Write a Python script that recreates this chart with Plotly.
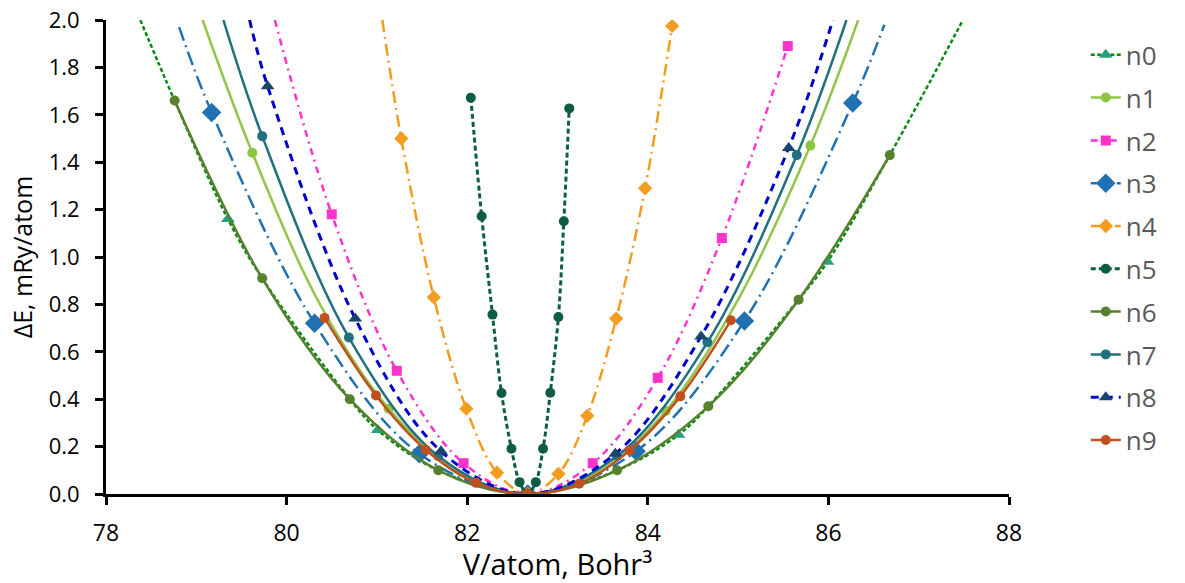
import plotly.graph_objects as go

# ---------------- data ----------------
series_names = ["n0", "n1", "n2", "n3", "n4", "n5", "n6", "n7", "n8", "n9"]

n0_line_x = [78.38, 78.76, 79.35, 79.73, 80.70, 81.01, 81.68, 82.67, 83.66, 84.34, 84.67, 85.67, 85.99, 86.68, 87.49]
n0_line_y = [2.00, 1.66, 1.16, 0.91, 0.40, 0.27, 0.10, 0.00, 0.10, 0.25, 0.37, 0.82, 0.98, 1.43, 2.00]
n0_mark_x = [79.35, 81.01, 82.67, 84.34, 85.99]
n0_mark_y = [1.16, 0.27, 0.00, 0.25, 0.98]

n1_line_x = [79.07, 79.62, 80.37, 81.13, 81.90, 82.67, 83.44, 84.20, 85.00, 85.80, 86.33]
n1_line_y = [2.00, 1.44, 0.80, 0.36, 0.09, 0.00, 0.09, 0.35, 0.82, 1.47, 2.00]
n1_mark_x = [79.62, 81.13, 82.67, 84.20, 85.80]
n1_mark_y = [1.44, 0.36, 0.00, 0.35, 1.47]

n2_line_x = [79.87, 80.50, 81.22, 81.96, 82.67, 83.39, 84.11, 84.82, 85.55]
n2_line_y = [2.00, 1.18, 0.52, 0.13, 0.00, 0.13, 0.49, 1.08, 1.89]
n2_mark_x = [80.50, 81.22, 81.96, 82.67, 83.39, 84.11, 84.82, 85.55]
n2_mark_y = [1.18, 0.52, 0.13, 0.00, 0.13, 0.49, 1.08, 1.89]

n3_line_x = [78.81, 79.17, 80.31, 81.47, 82.67, 83.87, 85.07, 86.27, 86.62]
n3_line_y = [1.97, 1.61, 0.72, 0.17, 0.00, 0.18, 0.73, 1.65, 1.98]
n3_mark_x = [79.17, 80.31, 81.47, 82.67, 83.87, 85.07, 86.27]
n3_mark_y = [1.61, 0.72, 0.17, 0.00, 0.18, 0.73, 1.65]

n4_line_x = [81.06, 81.27, 81.63, 81.99, 82.33, 82.67, 83.01, 83.33, 83.65, 83.97, 84.27]
n4_line_y = [2.00, 1.50, 0.83, 0.36, 0.09, 0.00, 0.085, 0.33, 0.74, 1.29, 1.975]
n4_mark_x = [81.27, 81.63, 81.99, 82.33, 82.67, 83.01, 83.33, 83.65, 83.97, 84.27]
n4_mark_y = [1.50, 0.83, 0.36, 0.09, 0.00, 0.085, 0.33, 0.74, 1.29, 1.975]

n5_mark_x = [82.04, 82.16, 82.28, 82.38, 82.49, 82.58, 82.67, 82.76, 82.84, 82.92, 83.01, 83.07, 83.13]
n5_mark_y = [1.672, 1.172, 0.757, 0.426, 0.191, 0.050, 0.00, 0.050, 0.191, 0.427, 0.747, 1.151, 1.627]
n5_line_x = n5_mark_x
n5_line_y = n5_mark_y

n6_mark_x = [78.76, 79.73, 80.70, 81.68, 82.67, 83.66, 84.67, 85.67, 86.68]
n6_mark_y = [1.66, 0.91, 0.40, 0.10, 0.00, 0.10, 0.37, 0.82, 1.43]
n6_line_x = n6_mark_x
n6_line_y = n6_mark_y

n7_line_x = [79.30, 79.73, 80.69, 81.68, 82.67, 83.66, 84.66, 85.65, 86.20]
n7_line_y = [2.00, 1.51, 0.66, 0.16, 0.00, 0.16, 0.64, 1.43, 2.00]
n7_mark_x = [79.73, 80.69, 81.68, 82.67, 83.66, 84.66, 85.65]
n7_mark_y = [1.51, 0.66, 0.16, 0.00, 0.16, 0.64, 1.43]

n8_line_x = [79.59, 79.79, 80.76, 81.71, 82.67, 83.64, 84.59, 85.56, 86.05]
n8_line_y = [2.00, 1.72, 0.74, 0.18, 0.00, 0.17, 0.665, 1.46, 2.00]
n8_mark_x = [79.79, 80.76, 81.71, 82.67, 83.64, 84.59, 85.56]
n8_mark_y = [1.72, 0.74, 0.18, 0.00, 0.17, 0.665, 1.46]

n9_mark_x = [80.42, 80.99, 81.54, 82.10, 82.67, 83.24, 83.80, 84.36, 84.92]
n9_mark_y = [0.743, 0.416, 0.187, 0.047, 0.00, 0.043, 0.184, 0.412, 0.733]
n9_line_x = n9_mark_x
n9_line_y = n9_mark_y

x_ticks = [78, 80, 82, 84, 86, 88]
y_ticks = [0.0, 0.2, 0.4, 0.6, 0.8, 1.0, 1.2, 1.4, 1.6, 1.8, 2.0]

data = {
    "n0": (n0_line_x, n0_line_y, n0_mark_x, n0_mark_y),
    "n1": (n1_line_x, n1_line_y, n1_mark_x, n1_mark_y),
    "n2": (n2_line_x, n2_line_y, n2_mark_x, n2_mark_y),
    "n3": (n3_line_x, n3_line_y, n3_mark_x, n3_mark_y),
    "n4": (n4_line_x, n4_line_y, n4_mark_x, n4_mark_y),
    "n5": (n5_line_x, n5_line_y, n5_mark_x, n5_mark_y),
    "n6": (n6_line_x, n6_line_y, n6_mark_x, n6_mark_y),
    "n7": (n7_line_x, n7_line_y, n7_mark_x, n7_mark_y),
    "n8": (n8_line_x, n8_line_y, n8_mark_x, n8_mark_y),
    "n9": (n9_line_x, n9_line_y, n9_mark_x, n9_mark_y),
}

# ---------------- styles ----------------
styles = {
    "n0": dict(lc="#078A12", dash="4px,2.5px", lw=2.5, mc="#27A07F", sym="triangle-up", ms=12),
    "n1": dict(lc="#92C54A", dash="solid", lw=2.5, mc="#8DC640", sym="circle", ms=10),
    "n2": dict(lc="#FF33CC", dash="7px,5px,2px,5px", lw=2.5, mc="#FF33CC", sym="square", ms=10),
    "n3": dict(lc="#2071B2", dash="14px,5px,2px,5px", lw=2.5, mc="#2071B2", sym="diamond", ms=15),
    "n4": dict(lc="#F39C1E", dash="12px,5px,2px,5px", lw=2.5, mc="#F39C1E", sym="diamond", ms=11),
    "n5": dict(lc="#0F5C45", dash="5px,3px", lw=3, mc="#0F5C45", sym="circle", ms=10),
    "n6": dict(lc="#56812E", dash="solid", lw=2.5, mc="#56812E", sym="circle", ms=10),
    "n7": dict(lc="#22707F", dash="solid", lw=2.5, mc="#22707F", sym="circle", ms=10),
    "n8": dict(lc="#0000CD", dash="8px,6px", lw=3, mc="#17456C", sym="triangle-up", ms=12),
    "n9": dict(lc="#C0501E", dash="solid", lw=2.5, mc="#C0501E", sym="circle", ms=10),
}

fig = go.Figure()
for name in series_names:
    lx, ly, mx, my = data[name]
    st = styles[name]
    fig.add_trace(go.Scatter(
        x=lx, y=ly, mode="lines", line=dict(color=st["lc"], width=st["lw"], dash=st["dash"], shape="spline"),
        legendgroup=name, showlegend=False, hoverinfo="skip"))
    fig.add_trace(go.Scatter(
        x=mx, y=my, mode="markers",
        marker=dict(color=st["mc"], symbol=st["sym"], size=st["ms"], line=dict(width=0)),
        legendgroup=name, showlegend=False, name=name))
    fig.add_trace(go.Scatter(
        x=[None], y=[None], mode="lines+markers", name=name, legendgroup=name,
        line=dict(color=st["lc"], width=st["lw"], dash=st["dash"]),
        marker=dict(color=st["mc"], symbol=st["sym"], size=st["ms"], line=dict(width=0))))

fig.update_layout(
    width=1185, height=583,
    margin=dict(l=106, r=176, t=20, b=89),
    paper_bgcolor="white", plot_bgcolor="white",
    font=dict(family="Open Sans", color="black"),
    showlegend=True,
    legend=dict(x=1.085, xanchor="left", y=0.976, yanchor="top",
                font=dict(size=26, color="#595959"), tracegroupgap=6,
                traceorder="grouped", bgcolor="rgba(0,0,0,0)"),
    xaxis=dict(range=[78, 88], tickvals=x_ticks, ticktext=[str(v) for v in x_ticks],
               showgrid=False, zeroline=False, showline=True, linecolor="black", linewidth=3,
               ticks="outside", ticklen=8, tickwidth=2.5, tickcolor="black", automargin=False,
               tickfont=dict(size=23, color="black"), ticklabelstandoff=8,
               title=dict(text="V/atom, Bohr³", font=dict(size=29, color="black"), standoff=12)),
    yaxis=dict(range=[0, 2.0], tickvals=y_ticks, ticktext=[f"{v:.1f}" for v in y_ticks],
               showgrid=False, zeroline=False, showline=True, linecolor="black", linewidth=3,
               ticks="outside", ticklen=8, tickwidth=2.5, tickcolor="black", automargin=False,
               tickfont=dict(size=22, color="black"), ticklabelstandoff=11,
               title=dict(text="ΔE, mRy/atom", font=dict(size=25, color="black"), standoff=9)),
)

fig.write_html("out.html")
